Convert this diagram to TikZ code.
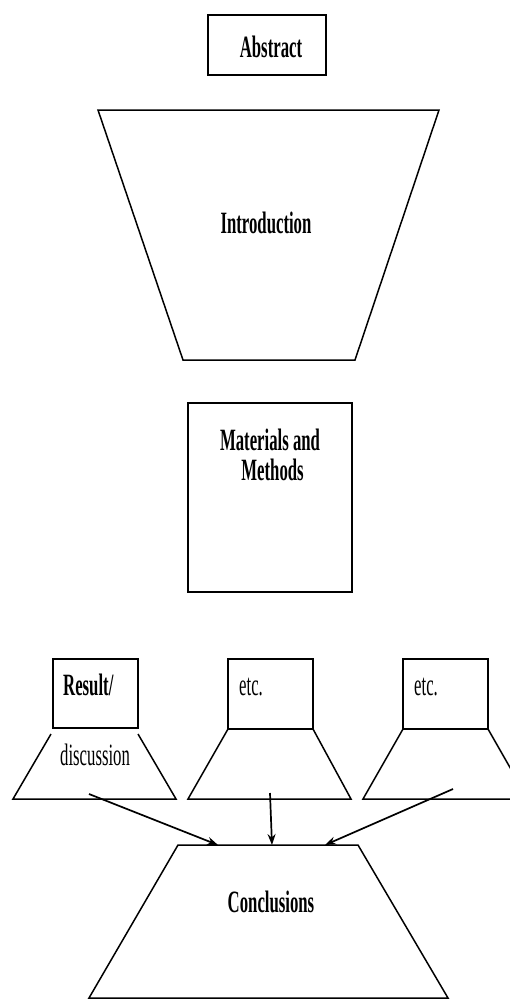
\documentclass[tikz,border=0pt]{standalone}
\usepackage{fontspec}
\setmainfont{Liberation Serif}[FakeStretch=0.54]
\usetikzlibrary{arrows.meta}

\begin{document}
\begin{tikzpicture}[x=1pt, y=-1pt,
  outline/.style={draw, line width=1.5pt, line join=miter},
  title/.style={font=\fontsize{31}{30}\selectfont\bfseries, inner sep=0pt, anchor=base},
  note/.style={font=\fontsize{31}{30}\selectfont, inner sep=0pt, anchor=base west},
  link/.style={line width=1.7pt, -{Stealth[length=11pt,width=8pt]}}]
\useasboundingbox (0,0) rectangle (510,999);
\clip (0,0) rectangle (510,999);

% Abstract
\draw[outline] (208,15) rectangle (326,75);
\node[title] (abstract) at (271,57) {Abstract};

% Introduction funnel
\draw[outline] (98,110) -- (439,110) -- (355,360) -- (183,360) -- cycle;
\node[title] (intro) at (266,233) {Introduction};

% Materials and Methods
\draw[outline] (188,403) rectangle (352,592);
\node[title, align=center] (methods) at (270,480) {Materials and\\ \,Methods};

% Result / discussion
\draw[outline] (53,659) rectangle (138,728);
\draw[outline] (51,734) -- (13,799) -- (176,799) -- (138,734);
\node[title, anchor=base west] (result) at (63,695) {Result/};
\node[note] (discussion) at (60,765) {discussion};

% middle etc.
\draw[outline] (228,659) rectangle (313,729);
\draw[outline] (228,729) -- (188,799) -- (351,799) -- (313,729);
\node[note] (etcA) at (239,695) {etc.};

% right etc.
\draw[outline] (403,659) rectangle (488,729);
\draw[outline] (403,729) -- (363,799) -- (528,799) -- (488,729);
\node[note] (etcB) at (414,695) {etc.};

% Conclusions
\draw[outline] (178,845) -- (358,845) -- (448,998) -- (89,998) -- cycle;
\node[title] (concl) at (271,912) {Conclusions};

% connectors
\coordinate (fromA) at (89,794);
\coordinate (fromB) at (270,793);
\coordinate (fromC) at (453,789);
\coordinate (toA) at (218,845);
\coordinate (toB) at (272,845);
\coordinate (toC) at (325,845);
\draw[link] (fromA) -- (toA);
\draw[link] (fromB) -- (toB);
\draw[link] (fromC) -- (toC);
\end{tikzpicture}
\end{document}
